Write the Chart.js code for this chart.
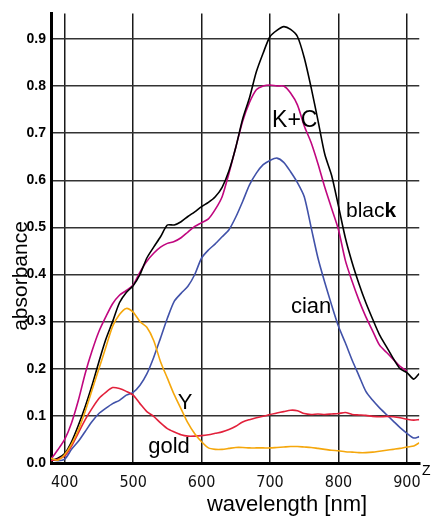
<!DOCTYPE html>
<html>
<head>
<meta charset="utf-8">
<script src="https://cdn.jsdelivr.net/npm/chart.js@4/dist/chart.umd.min.js"></script>
<style>
  html, body { margin: 0; padding: 0; background: #ffffff; }
  #wrap { width: 431px; height: 518px; }
</style>
</head>
<body>
<div id="wrap"><canvas id="spectra" width="431" height="518"></canvas></div>
<script>
// Absorbance spectra of the inks, sampled every 10 nm
const wavelengths = [380, 390, 400, 410, 420, 430, 440, 450, 460, 470,
  480, 490, 500, 510, 520, 530, 540, 550, 560, 570,
  580, 590, 600, 610, 620, 630, 640, 650, 660, 670,
  680, 690, 700, 710, 720, 730, 740, 750, 760, 770,
  780, 790, 800, 810, 820, 830, 840, 850, 860, 870,
  880, 890, 900, 910, 918];

const blackInk = [0.005, 0.01, 0.02, 0.045, 0.08, 0.12, 0.165, 0.215, 0.262, 0.30,
  0.34, 0.362, 0.376, 0.40, 0.435, 0.458, 0.48, 0.505, 0.505, 0.512,
  0.523, 0.533, 0.544, 0.553, 0.565, 0.585, 0.62, 0.67, 0.73, 0.775,
  0.83, 0.87, 0.905, 0.918, 0.926, 0.92, 0.905, 0.86, 0.797, 0.727,
  0.655, 0.61, 0.545, 0.478, 0.425, 0.38, 0.34, 0.305, 0.272, 0.247,
  0.222, 0.20, 0.192, 0.178, 0.19];

const kPlusC = [0.008, 0.028, 0.05, 0.085, 0.133, 0.19, 0.238, 0.279, 0.31, 0.338,
  0.356, 0.366, 0.378, 0.405, 0.428, 0.445, 0.458, 0.466, 0.47, 0.478,
  0.49, 0.502, 0.51, 0.518, 0.538, 0.565, 0.615, 0.67, 0.725, 0.765,
  0.792, 0.80, 0.802, 0.80, 0.80, 0.785, 0.76, 0.715, 0.68, 0.635,
  0.585, 0.54, 0.495, 0.43, 0.385, 0.345, 0.31, 0.28, 0.25, 0.235,
  0.22, 0.205, 0.195, null, null];

const cyanInk = [0.008, 0.005, 0.008, 0.029, 0.046, 0.067, 0.088, 0.105, 0.116, 0.126,
  0.133, 0.144, 0.15, 0.165, 0.189, 0.224, 0.265, 0.307, 0.343, 0.36,
  0.375, 0.40, 0.435, 0.452, 0.465, 0.48, 0.495, 0.522, 0.555, 0.59,
  0.615, 0.633, 0.642, 0.647, 0.638, 0.618, 0.595, 0.565, 0.50, 0.435,
  0.383, 0.335, 0.29, 0.255, 0.218, 0.185, 0.152, 0.133, 0.117, 0.103,
  0.089, 0.075, 0.063, 0.053, 0.056];

const goldInk = [0.005, 0.008, 0.015, 0.036, 0.064, 0.092, 0.116, 0.137, 0.15, 0.16,
  0.158, 0.152, 0.144, 0.126, 0.109, 0.099, 0.085, 0.073, 0.066, 0.06,
  0.057, 0.057, 0.058, 0.06, 0.063, 0.066, 0.071, 0.078, 0.087, 0.092,
  0.096, 0.099, 0.103, 0.106, 0.109, 0.112, 0.111, 0.105, 0.103, 0.104,
  0.103, 0.104, 0.105, 0.107, 0.103, 0.102, 0.101, 0.099, 0.098, 0.099,
  0.098, 0.096, 0.093, 0.091, 0.092];

const yellowInk = [0.01, 0.006, 0.018, 0.04, 0.07, 0.11, 0.155, 0.20, 0.245, 0.29,
  0.315, 0.328, 0.32, 0.30, 0.288, 0.26, 0.215, 0.18, 0.145, 0.115,
  0.085, 0.062, 0.045, 0.032, 0.029, 0.029, 0.031, 0.033, 0.033, 0.032,
  0.032, 0.032, 0.032, 0.033, 0.034, 0.035, 0.035, 0.034, 0.033, 0.031,
  0.029, 0.027, 0.026, 0.024, 0.023, 0.022, 0.022, 0.023, 0.025, 0.027,
  0.029, 0.031, 0.034, 0.036, 0.043];

const xTicks = [400, 500, 600, 700, 800, 900];
const yTicks = [0.0, 0.1, 0.2, 0.3, 0.4, 0.5, 0.6, 0.7, 0.8, 0.9];

const toPoints = arr => wavelengths.map((w, i) => ({ x: w, y: arr[i] }));

const SANS = "'Liberation Sans', Arial, Helvetica, sans-serif";
const NARROW = "'Liberation Sans Narrow', 'Arial Narrow', 'DejaVu Sans Condensed', sans-serif";

// curve captions, axis titles and the stray letter at the axis end
const captions = {
  id: 'captions',
  afterDraw(chart) {
    const { ctx, scales: { x, y } } = chart;
    ctx.save();
    ctx.fillStyle = '#000';
    ctx.textBaseline = 'alphabetic';
    ctx.textAlign = 'left';

    const put = (text, wl, ab, font) => {
      ctx.font = font;
      ctx.fillText(text, x.getPixelForValue(wl), y.getPixelForValue(ab));
    };
    put('K+C', 703, 0.713, '23px ' + SANS);
    put('cian', 730.5, 0.319, '22px ' + SANS);
    put('Y', 565.3, 0.114, '22px ' + SANS);
    put('gold', 522.1, 0.021, '22px ' + SANS);

    // "blac" regular + bold "k"
    ctx.font = '21px ' + SANS;
    const bx = x.getPixelForValue(811), by = y.getPixelForValue(0.521);
    ctx.fillText('blac', bx, by);
    const w = ctx.measureText('blac').width;
    ctx.font = 'bold 21px ' + SANS;
    ctx.fillText('k', bx + w, by);

    ctx.font = '14px ' + SANS;
    ctx.fillText('Z', 422, 475);

    // axis titles
    ctx.font = '22px ' + SANS;
    ctx.textAlign = 'center';
    ctx.fillText('wavelength [nm]', 287, 511);
    ctx.save();
    ctx.translate(27, 276);
    ctx.rotate(-Math.PI / 2);
    ctx.font = '21px ' + SANS;
    ctx.fillText('absorbance', 0, 0);
    ctx.restore();
    ctx.restore();
  }
};

const line = (arr, color) => ({
  data: toPoints(arr),
  borderColor: color,
  borderWidth: 1.6,
  pointRadius: 0,
  tension: 0.25,
  fill: false,
  spanGaps: false
});

new Chart(document.getElementById('spectra'), {
  type: 'line',
  data: {
    datasets: [
      line(yellowInk, '#f5a70c'),
      line(goldInk, '#e2213b'),
      line(blackInk, '#000000'),
      line(kPlusC, '#c0077f'),
      line(cyanInk, '#4152a9')
    ]
  },
  options: {
    responsive: false,
    animation: false,
    events: [],
    layout: { padding: { top: 6, right: 10, left: 0, bottom: 0 } },
    plugins: { legend: { display: false }, tooltip: { enabled: false } },
    scales: {
      x: {
        type: 'linear',
        min: 380,
        max: 918,
        afterBuildTicks: s => { s.ticks = xTicks.map(v => ({ value: v })); },
        afterFit: s => { s.height = 55; },
        grid: { color: '#1a1a1a', lineWidth: 1.5, drawTicks: false },
        border: { color: '#000', width: 3 },
        ticks: {
          color: '#111',
          padding: 10,
          maxRotation: 0,
          font: { family: NARROW, size: 16 },
          callback: v => String(v)
        }
      },
      y: {
        type: 'linear',
        min: 0,
        max: 0.954,
        afterBuildTicks: s => { s.ticks = yTicks.map(v => ({ value: v })); },
        afterFit: s => { s.width = 51; },
        grid: { color: '#333', lineWidth: 1.4, drawTicks: false },
        border: { color: '#000', width: 3 },
        ticks: {
          color: '#000',
          padding: 5,
          font: { family: SANS, size: 14, weight: 'bold' },
          callback: v => Number(v).toFixed(1)
        }
      }
    }
  },
  plugins: [captions]
});
</script>
</body>
</html>
